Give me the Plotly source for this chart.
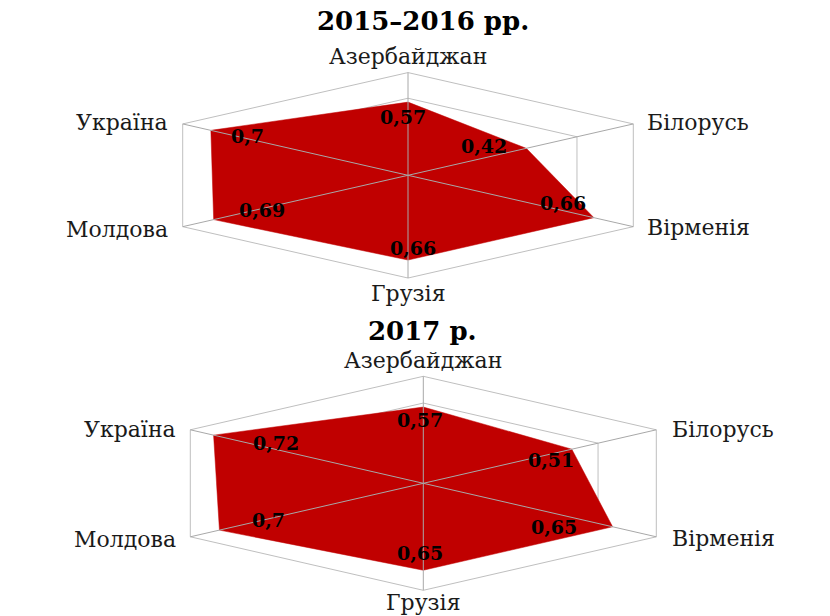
import numpy as np
import plotly.graph_objects as go

# ---------------- data ----------------
categories = ["Азербайджан", "Білорусь", "Вірменія", "Грузія", "Молдова", "Україна"]
values_2015_2016 = [0.57, 0.42, 0.66, 0.66, 0.69, 0.70]
values_2017 = [0.57, 0.51, 0.65, 0.65, 0.70, 0.72]
titles = ["2015–2016 рр.", "2017 р."]
ring_levels = [0.2, 0.4, 0.6, 0.8]

# ---------------- style / layout ----------------
W, H = 830, 616
FILL = "#C00000"
RING = "#BFBFBF"
SPOKE = "#A8A8A8"
FONT = "DejaVu Serif"

# per-panel geometry (pixel centre, px per unit in x / y, vertical pixel band)
panels = [
    dict(values=values_2015_2016, title=titles[0], cx=408, cy=175.3, sx=325.2, sy=128.4,
         band=(0, 308), title_y=21,
         label_shift=[(-5, -15), (-42, 2), (-31, 15), (5, 12), (48, 10), (37, -6)],
         cat_shift=[(0, 16), (12, 1), (12, -1), (0, -15), (-13, -3), (-13, 1)]),
    dict(values=values_2017, title=titles[1], cx=423.3, cy=483.3, sx=336.3, sy=133.75,
         band=(308, 616), title_y=331,
         label_shift=[(-3, -13), (-21, -11), (-59, 0), (-3, 17), (49, 10), (62, -8)],
         cat_shift=[(0, 16), (14, 0), (14, -2), (0, -12), (-12, -3), (-12, 0)]),
]
cat_anchor = ["center", "left", "left", "center", "right", "right"]

n = len(categories)
ang = np.deg2rad(np.arange(n) * 360.0 / n)  # clockwise from top
r_max = ring_levels[-1]


def xy(rs):
    rs = np.asarray(rs, dtype=float)
    return rs * np.sin(ang), rs * np.cos(ang)


def fmt(v):
    return f"{v:g}".replace(".", ",")


fig = go.Figure()
annotations = []
layout_axes = {}

for k, p in enumerate(panels):
    xa = "x" if k == 0 else f"x{k+1}"
    ya = "y" if k == 0 else f"y{k+1}"
    # rings (below data)
    for lev in ring_levels:
        rx, ry = xy([lev] * n)
        fig.add_trace(go.Scatter(x=list(rx) + [rx[0]], y=list(ry) + [ry[0]], mode="lines",
                                 line=dict(color=RING, width=1), hoverinfo="skip",
                                 showlegend=False, xaxis=xa, yaxis=ya))
    # data area
    dx, dy = xy(p["values"])
    fig.add_trace(go.Scatter(x=list(dx) + [dx[0]], y=list(dy) + [dy[0]], mode="lines",
                             fill="toself", fillcolor=FILL, line=dict(color=FILL, width=0.5),
                             name=p["title"], showlegend=False, xaxis=xa, yaxis=ya,
                             text=categories + [categories[0]],
                             hovertemplate="%{text}: %{customdata}<extra></extra>",
                             customdata=[fmt(v) for v in p["values"]] + [fmt(p["values"][0])]))
    # spokes (above data)
    ox, oy = xy([r_max] * n)
    for i in range(n):
        fig.add_trace(go.Scatter(x=[0, ox[i]], y=[0, oy[i]], mode="lines",
                                 line=dict(color=SPOKE, width=1), hoverinfo="skip",
                                 showlegend=False, xaxis=xa, yaxis=ya))
    # value labels
    for i, v in enumerate(p["values"]):
        sx_, sy_ = p["label_shift"][i]
        annotations.append(dict(x=dx[i], y=dy[i], xref=xa, yref=ya, text=fmt(v),
                                showarrow=False, xanchor="center", yanchor="middle",
                                xshift=sx_, yshift=sy_,
                                font=dict(family=FONT, size=19, color="black", weight="bold")))
    # category labels
    for i, c in enumerate(categories):
        sx_, sy_ = p["cat_shift"][i]
        annotations.append(dict(x=ox[i], y=oy[i], xref=xa, yref=ya, text=c, showarrow=False,
                                xanchor=cat_anchor[i], yanchor="middle", xshift=sx_, yshift=sy_,
                                font=dict(family=FONT, size=22, color="#1a1a1a")))
    # title
    annotations.append(dict(x=423 / W, y=1 - p["title_y"] / H, xref="paper", yref="paper",
                            text=f"<b>{p['title']}</b>", showarrow=False,
                            xanchor="center", yanchor="middle",
                            font=dict(family=FONT, size=26, color="black")))

    # axes ranges from pixel geometry
    top, bot = p["band"]
    xr = [-p["cx"] / p["sx"], (W - p["cx"]) / p["sx"]]
    yr = [-(bot - p["cy"]) / p["sy"], (p["cy"] - top) / p["sy"]]
    axis_common = dict(visible=False, showgrid=False, zeroline=False, fixedrange=True)
    layout_axes["xaxis" if k == 0 else f"xaxis{k+1}"] = dict(
        domain=[0, 1], range=xr, anchor=ya, **axis_common)
    layout_axes["yaxis" if k == 0 else f"yaxis{k+1}"] = dict(
        domain=[1 - bot / H, 1 - top / H], range=yr, anchor=xa, **axis_common)

fig.update_layout(
    width=W, height=H,
    margin=dict(l=0, r=0, t=0, b=0),
    paper_bgcolor="white", plot_bgcolor="rgba(0,0,0,0)",
    annotations=annotations,
    showlegend=False,
    **layout_axes,
)

fig.write_html("out.html", config={"displayModeBar": False},
               post_script="document.body.style.margin='0';document.body.style.overflow='hidden';")
